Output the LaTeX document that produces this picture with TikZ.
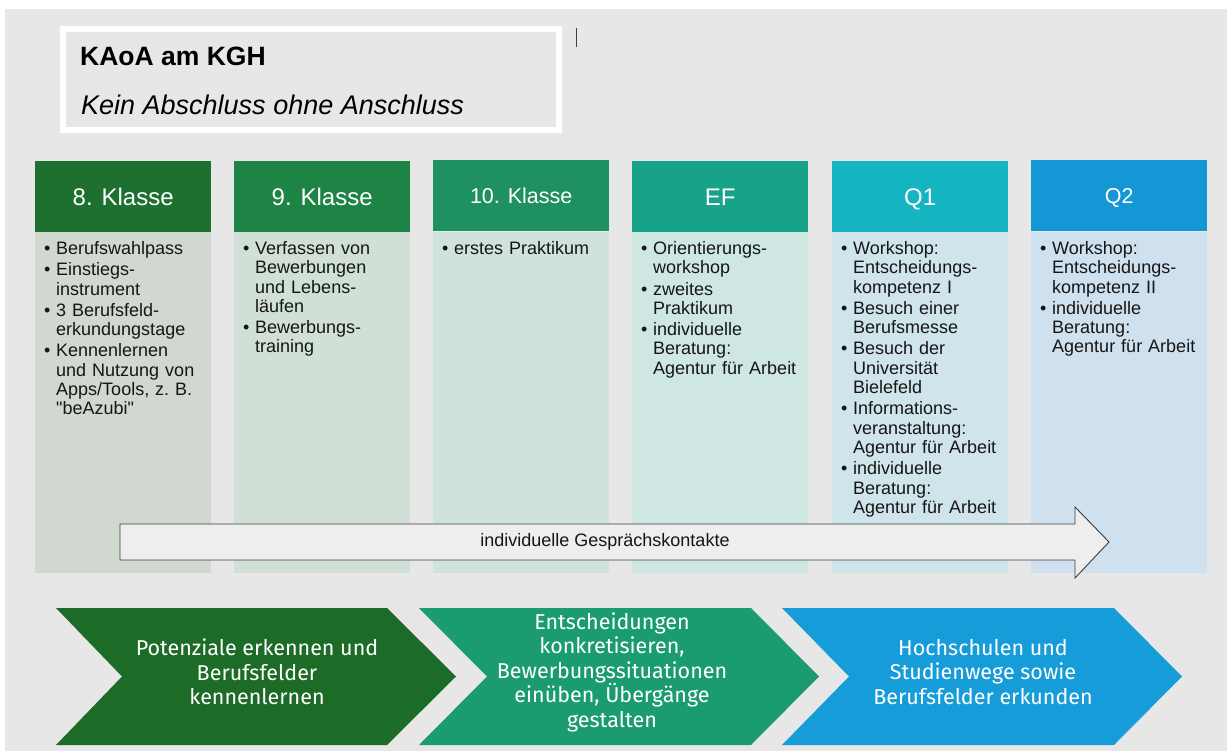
\documentclass[tikz,border=0pt]{standalone}
\usepackage{fontspec}
\setmainfont{Liberation Sans}[Ligatures=TeXOff]
\newfontfamily\chevfont{Fira Sans}
\definecolor{bg}{HTML}{E7E7E7}
\definecolor{h1}{HTML}{1E7031}
\definecolor{h2}{HTML}{1E8446}
\definecolor{h3}{HTML}{1F9160}
\definecolor{h4}{HTML}{17A38A}
\definecolor{h5}{HTML}{14B4C0}
\definecolor{h6}{HTML}{1597D6}
\definecolor{b1}{HTML}{D0D8D0}
\definecolor{b2}{HTML}{D0E0D6}
\definecolor{b3}{HTML}{CFE3DC}
\definecolor{b4}{HTML}{CEE7E3}
\definecolor{b5}{HTML}{CFE5EB}
\definecolor{b6}{HTML}{CFE0EE}
\definecolor{c1}{HTML}{1C6B26}
\definecolor{c2}{HTML}{1B9B70}
\definecolor{c3}{HTML}{169CD8}
\definecolor{txt}{HTML}{161616}
\definecolor{arrowfill}{HTML}{EEEEEE}
\definecolor{arrowline}{HTML}{3C3C3C}
\newcommand{\bi}[1]{\par\hangindent=12pt\hangafter=1\noindent\makebox[12pt][l]{\strut\textbullet}#1\par}
\tikzset{
  head/.style={anchor=north west, minimum width=176pt, minimum height=71pt, inner sep=0pt,
    text=white, text height=17pt, text depth=0pt, font=\fontsize{24}{28}\selectfont},
  smallhead/.style={head, text height=15.5pt, font=\fontsize{21.5}{25}\selectfont},
  colbody/.style={anchor=north west, minimum width=176pt, minimum height=341pt, inner sep=0pt},
  btext/.style={anchor=north west, inner sep=0pt, text width=190pt, align=left, text=txt,
    font=\fontsize{18}{19.3}\selectfont\setlength{\parskip}{2pt}},
  chevtext/.style={align=center, text=white, inner sep=0pt,
    font=\chevfont\fontsize{21.5}{24.5}\selectfont},
  bigarrow/.style={draw=arrowline, line width=0.9pt, fill=arrowfill, line join=miter},
}
\begin{document}
\begin{tikzpicture}[x=1pt,y=-1pt]
\useasboundingbox (0,0) rectangle (1227,751);
\fill[white] (0,0) rectangle (1227,751);
\fill[bg] (5,9) rectangle (1227,751);

% title box
\fill[white] (60,26) rectangle (562,133);
\fill[bg] (66,32) rectangle (556,127);
\node[anchor=base west, inner sep=0pt, font=\bfseries\fontsize{26.5}{30}\selectfont, text=black] (title) at (80,66) {KAoA am KGH};
\node[anchor=base west, inner sep=0pt, font=\itshape\fontsize{27}{30}\selectfont, text=black] (subtitle) at (81,115) {Kein Abschluss ohne Anschluss};
\draw[black!75, line width=1pt] (576,28) -- (576,47);

% column bodies
\node[colbody, fill=b1] (k1) at (35,232) {};
\node[colbody, fill=b2] (k2) at (234,232) {};
\node[colbody, fill=b3] (k3) at (433,232) {};
\node[colbody, fill=b4] (k4) at (632,232) {};
\node[colbody, fill=b5] (k5) at (832,232) {};
\node[colbody, fill=b6] (k6) at (1031,232) {};

% column headers
\node[head, fill=h1] (hd1) at (35,161) {8. Klasse};
\node[head, fill=h2] (hd2) at (234,161) {9. Klasse};
\node[smallhead, fill=h3] (hd3) at (433,160) {10. Klasse};
\node[head, fill=h4] (hd4) at (632,161) {EF};
\node[head, fill=h5] (hd5) at (832,161) {Q1};
\node[smallhead, fill=h6] (hd6) at (1031,160) {Q2};

% column texts
\node[btext] (t1) at (44,233) {%
\bi{Berufswahlpass}
\bi{Einstiegs-\newline instrument}
\bi{3 Berufsfeld-\newline erkundungstage}
\bi{Kennenlernen\newline und Nutzung von\newline Apps/Tools, z.\ B.\newline "beAzubi"}};
\node[btext] (t2) at (243,233) {%
\bi{Verfassen von\newline Bewerbungen\newline und Lebens-\newline läufen}
\bi{Bewerbungs-\newline training}};
\node[btext] (t3) at (442,233) {%
\bi{erstes Praktikum}};
\node[btext] (t4) at (641,233) {%
\bi{Orientierungs-\newline workshop}
\bi{zweites\newline Praktikum}
\bi{individuelle\newline Beratung:\newline Agentur für Arbeit}};
\node[btext] (t5) at (841,233) {%
\bi{Workshop:\newline Entscheidungs-\newline kompetenz I}
\bi{Besuch einer\newline Berufsmesse}
\bi{Besuch der\newline Universität\newline Bielefeld}
\bi{Informations-\newline veranstaltung:\newline Agentur für Arbeit}
\bi{individuelle\newline Beratung:\newline Agentur für Arbeit}};
\node[btext] (t6) at (1040,233) {%
\bi{Workshop:\newline Entscheidungs-\newline kompetenz II}
\bi{individuelle\newline Beratung:\newline Agentur für Arbeit}};

% big arrow
\draw[bigarrow] (120,524) -- (1075,524) -- (1075,507) -- (1109,542) -- (1075,578) -- (1075,560) -- (120,560) -- cycle;
\node[inner sep=0pt, text=txt, font=\fontsize{18}{21}\selectfont] (contact) at (605,542) {individuelle Gesprächskontakte};

% chevrons
\fill[c1] (56,608) -- (387,608) -- (456,676.5) -- (387,745) -- (56,745) -- (122,676.5) -- cycle;
\fill[c2] (419,608) -- (751,608) -- (819,676.5) -- (751,745) -- (419,745) -- (487,676.5) -- cycle;
\fill[c3] (782,608) -- (1114,608) -- (1182,676.5) -- (1114,745) -- (782,745) -- (849,676.5) -- cycle;
\node[chevtext] (p1) at (257,672) {Potenziale erkennen und\\Berufsfelder\\kennenlernen};
\node[chevtext] (p2) at (612,672) {Entscheidungen\\konkretisieren,\\Bewerbungssituationen\\einüben, Übergänge\\gestalten};
\node[chevtext] (p3) at (983,672) {Hochschulen und\\Studienwege sowie\\Berufsfelder erkunden};
\end{tikzpicture}
\end{document}
